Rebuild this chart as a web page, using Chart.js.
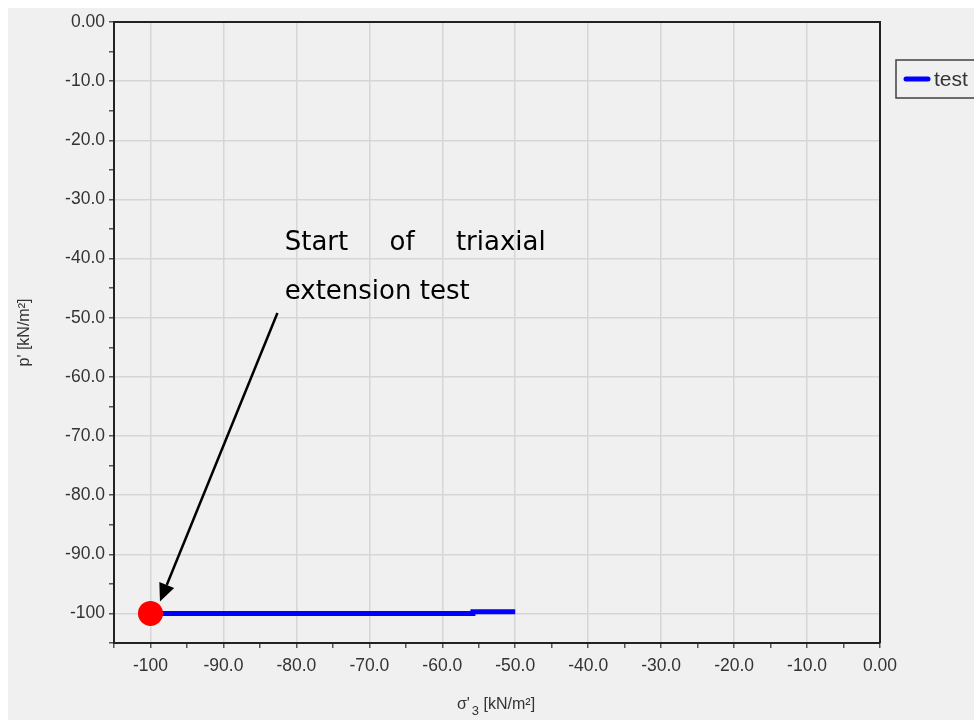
<!DOCTYPE html>
<html>
<head>
<meta charset="utf-8">
<script src="https://cdn.jsdelivr.net/npm/chart.js@4.4.1/dist/chart.umd.min.js"></script>
<style>
  html, body { margin: 0; padding: 0; background: #ffffff; }
  #wrap { position: absolute; left: 0; top: 0; width: 974px; height: 720px; }
</style>
</head>
<body>
<div id="wrap"><canvas id="canvas" width="974" height="720"></canvas></div>
<script>
// data
var sigma3 = [-100, -55.8, -55.8, -50.0];
var pPrime = [-100, -100, -99.73, -99.73];
var startPoint = [{x: -100, y: -100}];
var seriesName = 'test';

// ticks (majors every 10, minors at the halves)
var xMajor = [-100, -90, -80, -70, -60, -50, -40, -30, -20, -10, 0];
var xTickLabels = ['-100', '-90.0', '-80.0', '-70.0', '-60.0', '-50.0', '-40.0', '-30.0', '-20.0', '-10.0', '0.00'];
var yMajor = [0, -10, -20, -30, -40, -50, -60, -70, -80, -90, -100];
var yTickLabels = ['0.00', '-10.0', '-20.0', '-30.0', '-40.0', '-50.0', '-60.0', '-70.0', '-80.0', '-90.0', '-100'];
var minorTicks = [-105, -95, -85, -75, -65, -55, -45, -35, -25, -15, -5];

// annotation text and arrow (data coords)
var noteLine1 = ['Start', 'of', 'triaxial'];
var noteLine2 = 'extension test';
var noteAt = {x: -81.6, y: -38.6};
var arrowFrom = {x: -82.6, y: -49.2};
var arrowTo = {x: -98.7, y: -98.0};

var lineData = [];
for (var i = 0; i < sigma3.length; i++) {
    lineData.push({x: sigma3[i], y: pPrime[i]});
}

function allTicks(major) {
    var t = [];
    major.forEach(function (v) { t.push({value: v}); });
    minorTicks.forEach(function (v) { t.push({value: v}); });
    t.sort(function (a, b) { return a.value - b.value; });
    return t;
}

function isMajor(major, v) {
    return major.indexOf(v) >= 0;
}

var tickFont = {family: 'Liberation Sans', size: 17.5};

var extras = {
    id: 'extras',
    beforeDraw: function (chart) {
        var c = chart.ctx;
        c.save();
        c.fillStyle = '#ffffff';
        c.fillRect(0, 0, chart.width, chart.height);
        c.fillStyle = '#f0f0f0';
        c.fillRect(8, 8, chart.width - 8, chart.height - 8);
        c.restore();
    },
    afterDraw: function (chart) {
        var c = chart.ctx;
        var xs = chart.scales.x, ys = chart.scales.y;
        var area = chart.chartArea;
        c.save();

        // frame on top and right
        c.strokeStyle = '#222222';
        c.lineWidth = 2;
        c.beginPath();
        c.moveTo(area.left, area.top);
        c.lineTo(area.right, area.top);
        c.lineTo(area.right, area.bottom);
        c.stroke();

        // axis titles
        c.fillStyle = '#333333';
        c.font = '16px "Liberation Sans"';
        c.textBaseline = 'alphabetic';
        var cx = (area.left + area.right) / 2;
        var t1 = "\u03c3'", t2 = '3', t3 = ' [kN/m\u00b2]';
        var w1 = c.measureText(t1).width;
        c.font = '13px "Liberation Sans"';
        var w2 = c.measureText(t2).width;
        c.font = '16px "Liberation Sans"';
        var w3 = c.measureText(t3).width;
        var sx = cx - (w1 + w2 + w3) / 2 - 2;
        c.fillText(t1, sx, 709);
        c.font = '13px "Liberation Sans"';
        c.fillText(t2, sx + w1 + 2, 715);
        c.font = '16px "Liberation Sans"';
        c.fillText(t3, sx + w1 + w2 + 2, 709);

        c.save();
        c.translate(29, (area.top + area.bottom) / 2);
        c.rotate(-Math.PI / 2);
        c.textAlign = 'center';
        c.fillText("p' [kN/m\u00b2]", 0, 0);
        c.restore();

        // annotation text
        c.fillStyle = '#000000';
        c.font = '26px "DejaVu Sans"';
        c.textAlign = 'left';
        var nx = xs.getPixelForValue(noteAt.x);
        var ny = ys.getPixelForValue(noteAt.y);
        var lineW = 261;
        var wordsW = 0;
        noteLine1.forEach(function (w) { wordsW += c.measureText(w).width; });
        var gap = (lineW - wordsW) / (noteLine1.length - 1);
        var px = nx;
        noteLine1.forEach(function (w) {
            c.fillText(w, px, ny);
            px += c.measureText(w).width + gap;
        });
        c.fillText(noteLine2, nx, ny + 49);

        // arrow
        var ax = xs.getPixelForValue(arrowFrom.x), ay = ys.getPixelForValue(arrowFrom.y);
        var bx = xs.getPixelForValue(arrowTo.x), by = ys.getPixelForValue(arrowTo.y);
        var ang = Math.atan2(by - ay, bx - ax);
        var head = 18, half = 8;
        c.strokeStyle = '#000000';
        c.lineWidth = 2.5;
        c.beginPath();
        c.moveTo(ax, ay);
        c.lineTo(bx - Math.cos(ang) * head, by - Math.sin(ang) * head);
        c.stroke();
        c.beginPath();
        c.moveTo(bx, by);
        c.lineTo(bx - Math.cos(ang) * head + Math.sin(ang) * half, by - Math.sin(ang) * head - Math.cos(ang) * half);
        c.lineTo(bx - Math.cos(ang) * head - Math.sin(ang) * half, by - Math.sin(ang) * head + Math.cos(ang) * half);
        c.closePath();
        c.fill();

        // legend box
        c.strokeStyle = '#404040';
        c.lineWidth = 1.5;
        c.strokeRect(896, 60, 90, 38);
        c.strokeStyle = '#0000ff';
        c.lineWidth = 5;
        c.lineCap = 'round';
        c.beginPath();
        c.moveTo(906, 79);
        c.lineTo(928, 79);
        c.stroke();
        c.fillStyle = '#333333';
        c.font = '21px "Liberation Sans"';
        c.textBaseline = 'middle';
        c.fillText(seriesName, 934, 80);

        c.restore();
    }
};

var config = {
    type: 'scatter',
    data: {
        datasets: [{
            label: seriesName,
            data: lineData,
            showLine: true,
            borderColor: '#0000ff',
            backgroundColor: '#0000ff',
            borderWidth: 5,
            pointRadius: 0,
            order: 2
        }, {
            label: 'start',
            data: startPoint,
            pointRadius: 12.5,
            pointHoverRadius: 12.5,
            backgroundColor: '#ff0000',
            borderColor: '#ff0000',
            borderWidth: 0,
            order: 1
        }]
    },
    options: {
        responsive: false,
        animation: false,
        events: [],
        layout: {padding: {left: 0, top: 22, right: 94, bottom: 0}},
        plugins: {legend: {display: false}, tooltip: {enabled: false}},
        scales: {
            x: {
                type: 'linear',
                min: -105,
                max: 0,
                afterBuildTicks: function (s) { s.ticks = allTicks(xMajor); },
                afterFit: function (s) { s.height = 77; },
                border: {display: true, color: '#222222', width: 2},
                grid: {
                    color: function (ctx) { return isMajor(xMajor, ctx.tick.value) ? '#d6d6d6' : 'rgba(0,0,0,0)'; },
                    lineWidth: 1.5,
                    tickColor: '#555555',
                    tickLength: 5,
                    drawTicks: true
                },
                ticks: {
                    autoSkip: false,
                    maxRotation: 0,
                    padding: 8,
                    color: '#333333',
                    font: tickFont,
                    callback: function (v) {
                        var k = xMajor.indexOf(v);
                        return k >= 0 ? xTickLabels[k] : '';
                    }
                }
            },
            y: {
                type: 'linear',
                min: -105,
                max: 0,
                afterBuildTicks: function (s) { s.ticks = allTicks(yMajor); },
                afterFit: function (s) { s.width = 114; },
                border: {display: true, color: '#222222', width: 2},
                grid: {
                    color: function (ctx) { return isMajor(yMajor, ctx.tick.value) ? '#d6d6d6' : 'rgba(0,0,0,0)'; },
                    lineWidth: 1.5,
                    tickColor: '#555555',
                    tickLength: 5,
                    drawTicks: true
                },
                ticks: {
                    autoSkip: false,
                    padding: 4,
                    color: '#333333',
                    font: tickFont,
                    callback: function (v) {
                        var k = yMajor.indexOf(v);
                        return k >= 0 ? yTickLabels[k] : '';
                    }
                }
            }
        }
    },
    plugins: [extras]
};

window.onload = function () {
    var ctx = document.getElementById('canvas').getContext('2d');
    window.myChart = new Chart(ctx, config);
};
</script>
</body>
</html>
